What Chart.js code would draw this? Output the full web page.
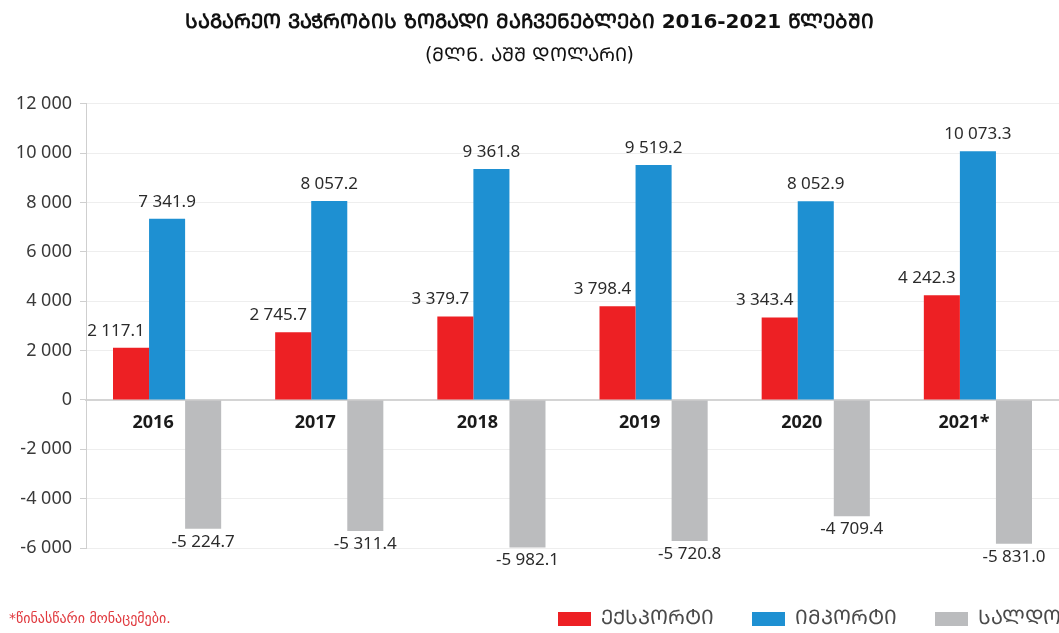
<!DOCTYPE html>
<html>
<head>
<meta charset="utf-8">
<script src="https://cdn.jsdelivr.net/npm/chart.js@4/dist/chart.umd.min.js"></script>
<style>
  html,body{margin:0;padding:0;background:#fff;}
  #wrap{width:1059px;height:633px;}
</style>
</head>
<body>
<div id="wrap"><canvas id="c" width="1059" height="633"></canvas></div>
<script>
const categories = ['2016', '2017', '2018', '2019', '2020', '2021*'];
const exportValues = [2117.1, 2745.7, 3379.7, 3798.4, 3343.4, 4242.3];
const importValues = [7341.9, 8057.2, 9361.8, 9519.2, 8052.9, 10073.3];
const saldoValues = [-5224.7, -5311.4, -5982.1, -5720.8, -4709.4, -5831.0];
const seriesNames = ['ექსპორტი', 'იმპორტი', 'სალდო'];
const titleText = 'საგარეო ვაჭრობის ზოგადი მაჩვენებლები 2016-2021 წლებში';
const subtitleText = '(მლნ. აშშ დოლარი)';
const footnoteText = '*წინასწარი მონაცემები.';
const yMin = -6000, yMax = 12000, yStep = 2000;

function toMtavruli(s){
  return Array.from(s).map(ch=>{
    const c = ch.codePointAt(0);
    if (c >= 0x10D0 && c <= 0x10FA) return String.fromCodePoint(c - 0x10D0 + 0x1C90);
    return ch;
  }).join('');
}

function groupThousands(intStr){
  return intStr.replace(/\B(?=(\d{3})+(?!\d))/g, ' ');
}
function fmtValue(v){
  const s = Math.abs(v).toFixed(1).split('.');
  return (v < 0 ? '-' : '') + groupThousands(s[0]) + '.' + s[1];
}
function fmtTick(v){
  return (v < 0 ? '-' : '') + groupThousands(String(Math.abs(Math.round(v))));
}

const FONT = "'Noto Sans', 'DejaVu Sans', sans-serif";
const GEO = "'DejaVu Sans', 'Noto Sans', sans-serif";

const LEGEND_PAD = 38;
const LEGEND_FONT = 20;

const valueLabels = {
  id: 'valueLabels',
  afterDatasetsDraw(chart){
    const ctx = chart.ctx;
    ctx.save();
    ctx.font = '17px ' + FONT;
    ctx.fillStyle = '#2b2b2b';
    ctx.textAlign = 'center';
    ctx.textBaseline = 'middle';
    chart.data.datasets.forEach((ds, di) => {
      const meta = chart.getDatasetMeta(di);
      meta.data.forEach((el, i) => {
        const v = ds.data[i];
        const dx = di === 0 ? -15 : 0;
        const y = v >= 0 ? el.y - 17 : el.y + 13;
        ctx.fillText(fmtValue(v), el.x + dx, y);
      });
    });
    ctx.restore();
  }
};

const legendPlacer = {
  id: 'legendPlacer',
  beforeDraw(chart){
    const lg = chart.legend;
    if (!lg || !lg.lineWidths) return;
    const itemH = LEGEND_FONT;
    const w = lg.right - lg.left;
    lg.right = 557 + lg.lineWidths[0] + 1;
    lg.left = lg.right - w;
    const h = lg.bottom - lg.top;
    lg.top = 619 - LEGEND_PAD - itemH / 2;
    lg.bottom = lg.top + h;
  }
};

const footnote = {
  id: 'footnote',
  afterDraw(chart){
    const ctx = chart.ctx;
    ctx.save();
    ctx.font = '14px ' + GEO;
    ctx.fillStyle = '#e0393e';
    ctx.textAlign = 'left';
    ctx.textBaseline = 'middle';
    ctx.fillText(footnoteText, 9, 619);
    ctx.restore();
  }
};

new Chart(document.getElementById('c'), {
  type: 'bar',
  data: {
    labels: categories,
    datasets: [
      { label: toMtavruli(seriesNames[0]), data: exportValues, backgroundColor: '#ed2024' },
      { label: toMtavruli(seriesNames[1]), data: importValues, backgroundColor: '#1e90d2' },
      { label: toMtavruli(seriesNames[2]), data: saldoValues, backgroundColor: '#bbbcbe' }
    ]
  },
  options: {
    responsive: false,
    devicePixelRatio: 1,
    animation: false,
    events: [],
    datasets: { bar: { categoryPercentage: 0.667, barPercentage: 1.0, borderWidth: 0 } },
    layout: { padding: { left: 0, right: 0, top: 0, bottom: 0 } },
    plugins: {
      title: {
        display: true,
        text: toMtavruli(titleText),
        color: '#111111',
        font: { family: GEO, size: 20, weight: 'bold' },
        padding: { top: 11, bottom: 10 }
      },
      subtitle: {
        display: true,
        text: toMtavruli(subtitleText),
        color: '#111111',
        font: { family: GEO, size: 19, weight: 'normal' },
        padding: { top: 0, bottom: 36 }
      },
      legend: {
        display: true,
        position: 'bottom',
        align: 'end',
        labels: {
          boxWidth: 33,
          boxHeight: 14,
          padding: LEGEND_PAD,
          color: '#4a4a4a',
          font: { family: GEO, size: LEGEND_FONT }
        }
      },
      tooltip: { enabled: false }
    },
    scales: {
      x: {
        position: { y: 0 },
        grid: { display: false },
        border: { display: true, color: '#d4d4d4', width: 2 },
        ticks: {
          color: '#1a1a1a',
          font: { family: FONT, size: 18, weight: 'bold' },
          padding: 4,
          labelOffset: -14,
          maxRotation: 0
        }
      },
      xPad: {
        type: 'category',
        position: 'bottom',
        display: true,
        grid: { display: false },
        border: { display: false },
        ticks: { display: false },
        afterFit(s){ s.height = 17; }
      },
      y: {
        min: yMin,
        max: yMax,
        ticks: {
          stepSize: yStep,
          color: '#3a3a3a',
          font: { family: FONT, size: 18 },
          padding: 8,
          callback: (v) => fmtTick(v)
        },
        grid: {
          color: (c) => c.tick && c.tick.value === 0 ? '#d4d4d4' : '#eeeeee',
          lineWidth: 1,
          tickLength: 6,
          tickColor: '#cfcfcf'
        },
        border: { display: true, color: '#cfcfcf', width: 1 },
        afterFit(s){ s.width = 86; }
      }
    }
  },
  plugins: [valueLabels, legendPlacer, footnote]
});
</script>
</body>
</html>
